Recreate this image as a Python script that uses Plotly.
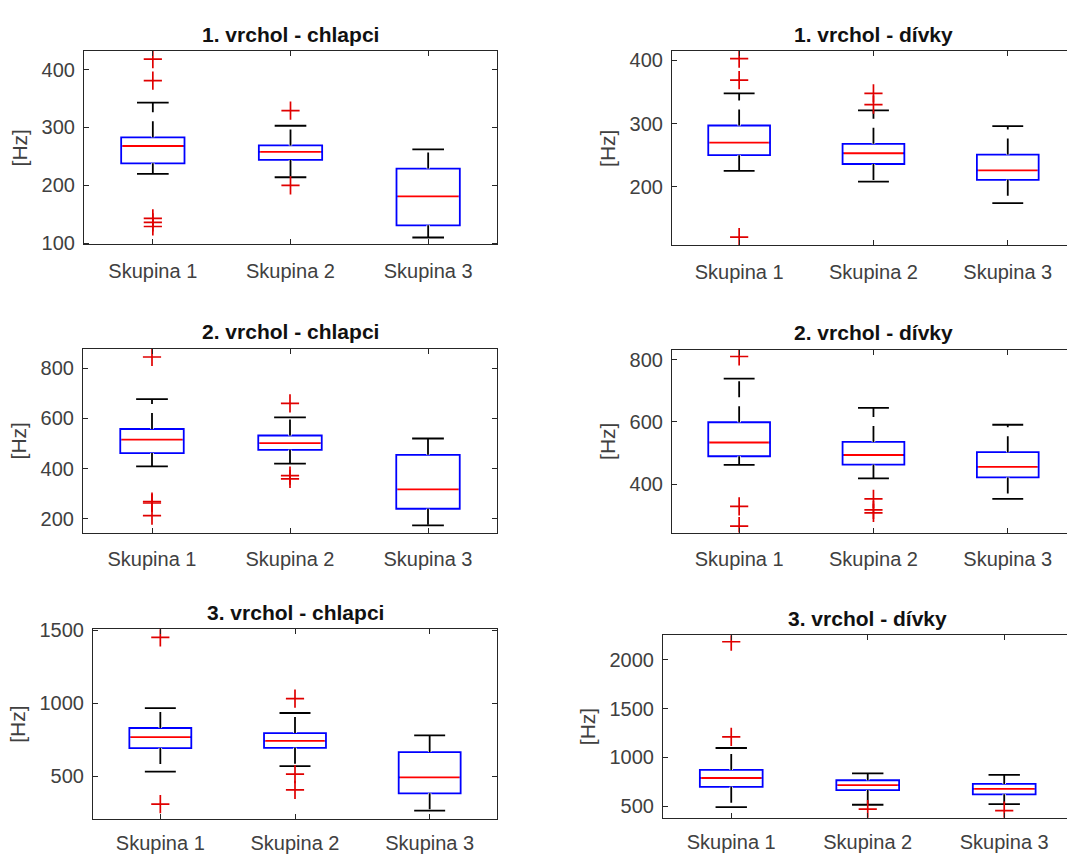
import plotly.graph_objects as go

# ---------------- data ----------------
groups = ["Skupina 1", "Skupina 2", "Skupina 3"]

titles = ["1. vrchol - chlapci", "1. vrchol - dívky",
          "2. vrchol - chlapci", "2. vrchol - dívky",
          "3. vrchol - chlapci", "3. vrchol - dívky"]

# 1. vrchol - chlapci
a_q1 = [238, 244, 131]
a_med = [268, 258, 181]
a_q3 = [283, 269, 229]
a_lo = [220, 214, 110]
a_hi = [343, 303, 262]
a_out = [[418, 381, 143, 136, 129], [329, 200], []]

# 1. vrchol - dívky
b_q1 = [250, 236, 211]
b_med = [270, 253, 226]
b_q3 = [297, 268, 251]
b_lo = [225, 208, 174]
b_hi = [348, 321, 296]
b_out = [[403, 369, 120], [348, 330], []]

# 2. vrchol - chlapci
c_q1 = [462, 475, 240]
c_med = [516, 502, 317]
c_q3 = [558, 532, 455]
c_lo = [409, 420, 174]
c_hi = [677, 604, 520]
c_out = [[845, 269, 263, 213], [660, 372, 359], []]

# 2. vrchol - dívky
d_q1 = [490, 463, 422]
d_med = [534, 494, 456]
d_q3 = [599, 536, 503]
d_lo = [462, 419, 353]
d_hi = [739, 645, 591]
d_out = [[810, 329, 266], [353, 318, 308], []]

# 3. vrchol - chlapci
e_q1 = [692, 694, 382]
e_med = [768, 741, 491]
e_q3 = [830, 795, 665]
e_lo = [531, 569, 263]
e_hi = [966, 933, 779]
e_out = [[1451, 308], [1031, 513, 406], []]

# 3. vrchol - dívky
f_q1 = [700, 667, 623]
f_med = [790, 717, 680]
f_q3 = [873, 767, 730]
f_lo = [493, 517, 523]
f_hi = [1097, 837, 823]
f_out = [[2183, 1210], [473], [457]]

y_ranges = [[98, 432], [107, 415], [145, 877], [245, 831], [207, 1507], [383, 2250]]
y_dticks = [100, 100, 200, 200, 500, 500]

panels = [
    (a_q1, a_med, a_q3, a_lo, a_hi, a_out),
    (b_q1, b_med, b_q3, b_lo, b_hi, b_out),
    (c_q1, c_med, c_q3, c_lo, c_hi, c_out),
    (d_q1, d_med, d_q3, d_lo, d_hi, d_out),
    (e_q1, e_med, e_q3, e_lo, e_hi, e_out),
    (f_q1, f_med, f_q3, f_lo, f_hi, f_out),
]

# ---------------- layout geometry ----------------
W, H = 1067, 863
# pixel boxes of the plot areas: (left, top, right, bottom, x-range end)
boxes = [
    (84, 42, 497, 240, 3.5),
    (672, 42, 1067, 241, 3.441),
    (83, 347, 497, 535, 3.5),
    (672, 348, 1067, 535, 3.441),
    (93, 634, 497, 828, 3.5),
    (663, 640, 1067, 827, 3.46),
]

BOX_W = 0.46
CAP_HALF = 0.115
BLUE = "#0000ff"
RED = "#ff0000"
OUTRED = "#e00000"
BLACK = "#000000"
AXC = "#262626"
TXT = "#404040"
FONT = "Liberation Sans, Arial, Helvetica, sans-serif"

pos = [i + 1 for i in range(len(groups))]

fig = go.Figure()
annotations = []

for k, (q1, med, q3, lo, hi, outs) in enumerate(panels):
    ax = "" if k == 0 else str(k + 1)
    xa, ya = "x" + ax, "y" + ax

    fig.add_trace(go.Box(
        x=pos, q1=q1, median=med, q3=q3, lowerfence=lo, upperfence=hi,
        width=BOX_W, whiskerwidth=0, boxpoints=False,
        line=dict(color=BLUE, width=1.8), fillcolor="rgba(0,0,0,0)",
        xaxis=xa, yaxis=ya, showlegend=False, hoverinfo="skip"))

    wx, wy, cx, cy, mx, my = [], [], [], [], [], []
    for i, p in enumerate(pos):
        wx += [p, p, None, p, p, None]
        wy += [q3[i], hi[i], None, q1[i], lo[i], None]
        cx += [p - CAP_HALF, p + CAP_HALF, None, p - CAP_HALF, p + CAP_HALF, None]
        cy += [hi[i], hi[i], None, lo[i], lo[i], None]
        mx += [p - BOX_W / 2 + 0.01, p + BOX_W / 2 - 0.01, None]
        my += [med[i], med[i], None]

    # white underlays hide the box trace's own (blue) whiskers and median
    fig.add_trace(go.Scatter(x=wx, y=wy, mode="lines", line=dict(color="white", width=3.5),
                             xaxis=xa, yaxis=ya, showlegend=False, hoverinfo="skip"))
    fig.add_trace(go.Scatter(x=mx, y=my, mode="lines", line=dict(color="white", width=3.5),
                             xaxis=xa, yaxis=ya, showlegend=False, hoverinfo="skip"))
    fig.add_trace(go.Scatter(x=wx, y=wy, mode="lines",
                             line=dict(color=BLACK, width=1.8, dash="16px,9px"),
                             xaxis=xa, yaxis=ya, showlegend=False, hoverinfo="skip"))
    fig.add_trace(go.Scatter(x=cx, y=cy, mode="lines", line=dict(color=BLACK, width=1.8),
                             xaxis=xa, yaxis=ya, showlegend=False, hoverinfo="skip"))
    fig.add_trace(go.Scatter(x=mx, y=my, mode="lines", line=dict(color=RED, width=1.8),
                             xaxis=xa, yaxis=ya, showlegend=False, hoverinfo="skip"))

    ox, oy = [], []
    for i, p in enumerate(pos):
        ox += [p] * len(outs[i])
        oy += outs[i]
    fig.add_trace(go.Scatter(x=ox, y=oy, mode="markers",
                             marker=dict(symbol="cross-thin", size=13,
                                         line=dict(color=OUTRED, width=1.7)),
                             xaxis=xa, yaxis=ya, showlegend=False, hoverinfo="skip"))

    left, top, right, bottom, xend = boxes[k]
    is_right = (k % 2 == 1)
    xdom = [left / W, right / W]
    ydom = [1 - bottom / H, 1 - top / H]
    lab_pad = 8 if k < 4 else 6

    fig.layout["xaxis" + ax] = dict(
        domain=xdom, anchor=ya, range=[0.5, xend],
        tickmode="array", tickvals=pos, ticktext=groups,
        showline=True, linecolor=AXC, linewidth=1.2, mirror="ticks",
        ticks="inside", ticklen=5, tickcolor=AXC, tickwidth=1,
        showgrid=False, zeroline=False, ticklabelstandoff=lab_pad,
        tickfont=dict(family=FONT, size=20, color=TXT))
    fig.layout["yaxis" + ax] = dict(
        domain=ydom, anchor=xa, range=y_ranges[k], dtick=y_dticks[k],
        showline=True, linecolor=AXC, linewidth=1.2,
        mirror=False if is_right else "ticks",
        ticks="inside", ticklen=5, tickcolor=AXC, tickwidth=1,
        showgrid=False, zeroline=False, ticklabelstandoff=4,
        tickfont=dict(family=FONT, size=20, color=TXT),
        title=dict(text="[Hz]", standoff=8, font=dict(family=FONT, size=21, color=TXT)))

    annotations.append(dict(
        text="<b>" + titles[k] + "</b>", xref=xa, x=2, yref="paper", y=ydom[1],
        yanchor="middle", xanchor="center", yshift=17, showarrow=False,
        font=dict(family=FONT, size=21, color="#111111")))

fig.update_layout(
    width=W, height=H, margin=dict(l=0, r=0, t=0, b=0),
    paper_bgcolor="white", plot_bgcolor="white",
    annotations=annotations, showlegend=False)

fig.write_html("out.html")
